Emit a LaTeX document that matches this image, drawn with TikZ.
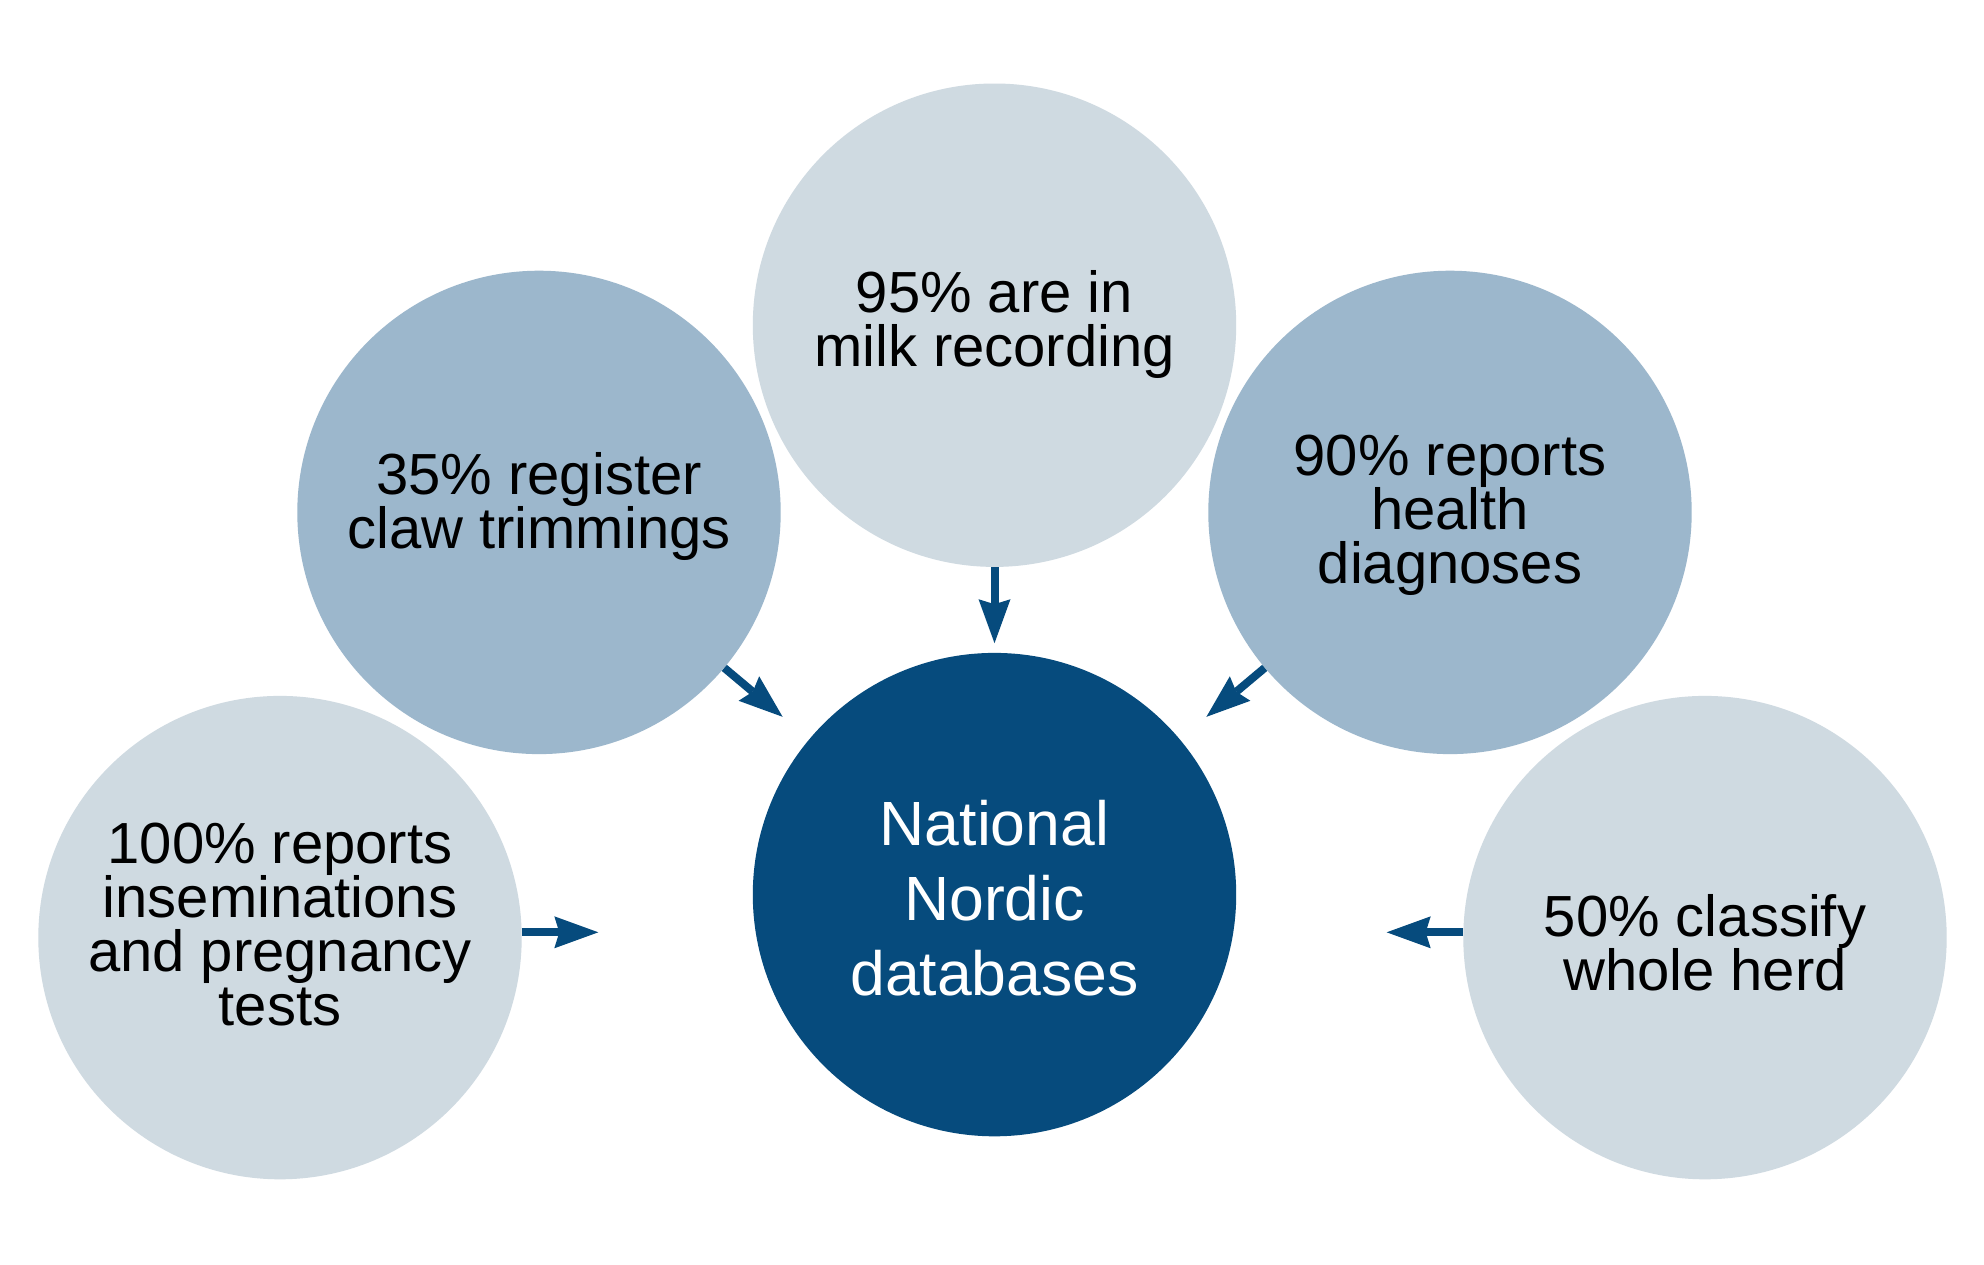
\documentclass[tikz,border=0pt]{standalone}
\usepackage{fontspec}
\setmainfont{Liberation Sans}
\usetikzlibrary{arrows.meta,calc}
\definecolor{bublight}{HTML}{CFDAE1}
\definecolor{bubmid}{HTML}{9CB7CC}
\definecolor{bubdark}{HTML}{064B7D}
\newcommand\txtlines[1]{\vtop{\lineskiplimit=-1000pt\halign{\hfil##\hfil\cr#1\crcr}}}
\begin{document}
\begin{tikzpicture}[x=1pt,y=-1pt,
  bub/.style={circle, minimum size=483.4pt, inner sep=0pt, text height=0pt,
    font=\fontsize{58}{54}\selectfont},
  lightbub/.style={bub, fill=bublight},
  midbub/.style={bub, fill=bubmid},
  centerbub/.style={bub, fill=bubdark, text=white, font=\fontsize{62.5}{75}\selectfont},
  arr/.style={draw=bubdark, line width=8pt,
    -{Stealth[length=44pt, width=32pt, inset=5pt, line width=0pt]}}
]
\fill[white] (0,0) rectangle (1984,1264);
\useasboundingbox (0,0) rectangle (1984,1264);

\node[centerbub, text depth=99.2pt] (c) at (994.5,894.6)
  {\txtlines{National\cr Nordic\cr databases}};
\node[lightbub, text depth=25.4pt] (top) at (994.5,325.2)
  {\txtlines{95\% are in\cr milk recording}};
\node[midbub, text depth=36.2pt] (lu) at (539,512.4)
  {\txtlines{35\% register\cr claw trimmings}};
\node[midbub, text depth=74.8pt] (ru) at (1450,512.4)
  {\txtlines{90\% reports\cr health\cr diagnoses}};
\node[lightbub, text depth=148.6pt] (ll) at (280,937.6)
  {\txtlines{100\% reports\cr inseminations\cr and pregnancy\cr tests}};
\node[lightbub, text depth=2pt] (rl) at (1705,937.6)
  {\txtlines{50\% classify\cr whole herd}};

\coordinate (topt) at ($(top)!318pt!(c)$);
\coordinate (lut) at ($(lu)!318pt!(c)$);
\coordinate (rut) at ($(ru)!318pt!(c)$);
\coordinate (llt) at (598.3,932.3);
\coordinate (rlt) at (1386.7,932.3);

\draw[arr] (top) -- (topt);
\draw[arr] (lu) -- (lut);
\draw[arr] (ru) -- (rut);
\draw[arr] (llt -| ll.east) -- (llt);
\draw[arr] (rlt -| rl.west) -- (rlt);
\end{tikzpicture}
\end{document}
